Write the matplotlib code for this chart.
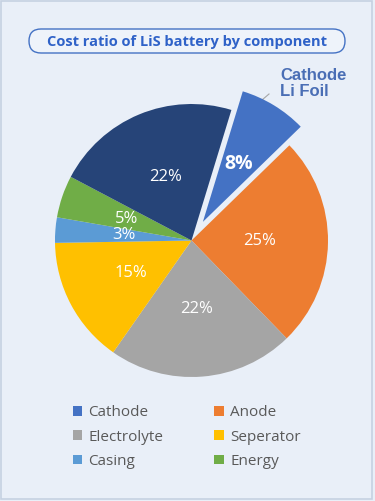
import numpy as np
import matplotlib
matplotlib.use("Agg")
import matplotlib.pyplot as plt
from matplotlib.patches import FancyBboxPatch, Rectangle

# data
labels = ["Cathode", "Anode", "Electrolyte", "Seperator", "Casing", "Energy", "Cathode Li Foil"]
shares = [8, 25, 22, 15, 3, 5, 22]
colors = ["#4472C4", "#ED7D31", "#A5A5A5", "#FFC000", "#5B9BD5", "#70AD47", "#264478"]
title = "Cost ratio of LiS battery by component"
callout = "Cathode\nLi Foil"

bg = "#E9EFF8"
W, H = 375, 501

fig = plt.figure(figsize=(W / 100, H / 100), dpi=100, facecolor=bg)

# background axes in pixel units (y down)
ax_bg = fig.add_axes([0, 0, 1, 1])
ax_bg.set_xlim(0, W)
ax_bg.set_ylim(H, 0)
ax_bg.axis("off")
ax_bg.add_patch(Rectangle((0.5, 0.5), 371, 498, fill=False, edgecolor="#C6D1E2", lw=1.2))

# title box
ax_bg.add_patch(FancyBboxPatch((29, 29), 316, 24,
                               boxstyle="round,pad=0,rounding_size=12",
                               facecolor="#EEF3FA", edgecolor="#4472C4", lw=1.0))
ax_bg.text(187, 41.5, title, ha="center", va="center", fontsize=10.5,
           fontweight="bold", color="#2F62C8", family="Open Sans")

# callout
ax_bg.text(280, 68, callout, ha="left", va="top", fontsize=12, fontweight="bold",
           color="#4A6EB5", family="Liberation Sans", linespacing=1.05)
ax_bg.plot([262, 269], [100, 94], color="#A6A6A6", lw=0.8)

# pie
cx, cy, r = 191.5, 240.5, 136.5
lim = 1.3
side = 2 * lim * r
ax = fig.add_axes([(cx - side / 2) / W, (H - cy - side / 2) / H, side / W, side / H])
ax.set_facecolor("none")
explode = [0.16, 0, 0, 0, 0, 0, 0]
wedges, texts, autotexts = ax.pie(
    shares, colors=colors, explode=explode, startangle=73, counterclock=False,
    autopct="%d%%", pctdistance=0.5, radius=1,
    wedgeprops=dict(linewidth=0),
    textprops=dict(color="white", fontsize=12, family="Open Sans"))
autotexts[0].set_fontweight("bold")
autotexts[0].set_fontsize(14)
ax.set_xlim(-lim, lim)
ax.set_ylim(-lim, lim)
ax.set_aspect("equal")
ax.axis("off")

# legend (row-wise order)
order = [0, 2, 4, 1, 3, 5]
ax_bg.legend([wedges[i] for i in order], [labels[i] for i in order], ncol=2,
             loc="upper left", bbox_to_anchor=(73, 405.5), bbox_transform=ax_bg.transData,
             frameon=False, borderpad=0, borderaxespad=0,
             handlelength=0.62, handleheight=0.62, handletextpad=0.4,
             columnspacing=3.33, labelspacing=0.6,
             prop=dict(family="Open Sans", size=11), labelcolor="#595959")

fig.savefig("out.png", dpi=100, facecolor=bg)
